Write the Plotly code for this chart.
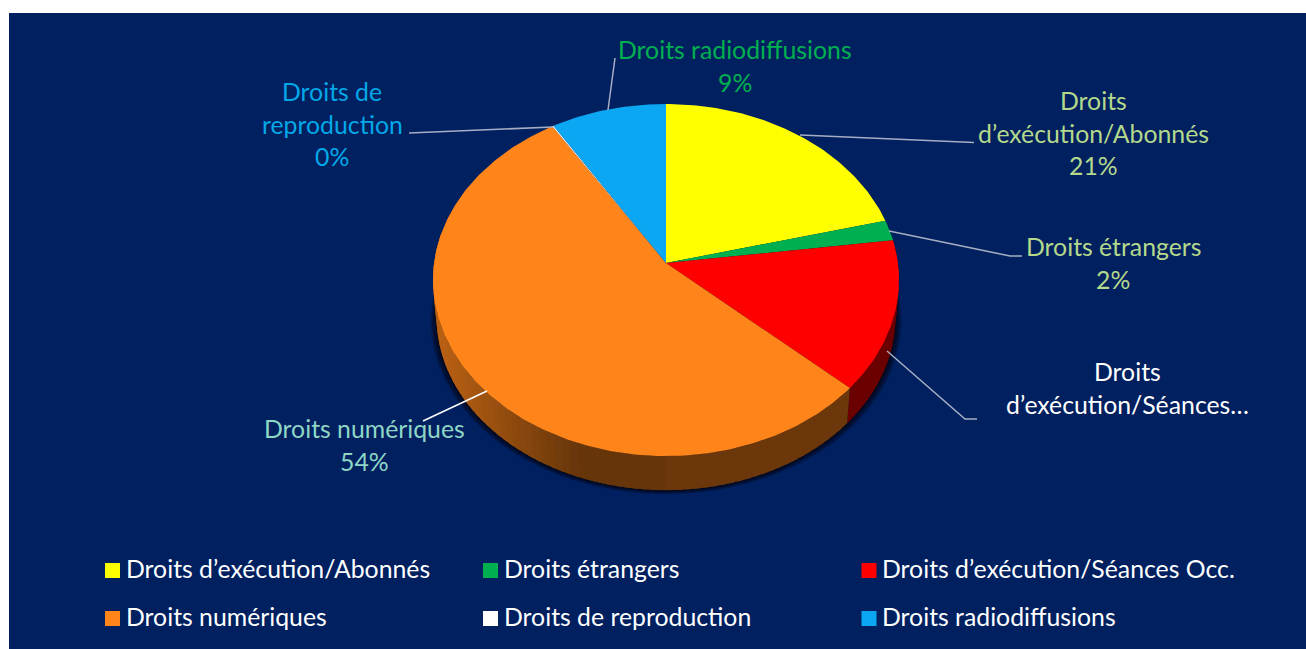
import numpy as np
import plotly.graph_objects as go

# data
categories = ["Droits d’exécution/Abonnés", "Droits étrangers", "Droits d’exécution/Séances Occ.",
              "Droits numériques", "Droits de reproduction", "Droits radiodiffusions"]
shares = [21.0, 1.9, 13.8, 54.4, 0.1, 8.8]
colors = ["#FFFF00", "#00B050", "#FF0000", "#FF851B", "#FFFFFF", "#0BA7F2"]

# outside labels: wrapped text, shown percent or not
label_lines = [["Droits", "d’exécution/Abonnés"], ["Droits étrangers"], ["Droits", "d’exécution/Séances…"],
               ["Droits numériques"], ["Droits de", "reproduction"], ["Droits radiodiffusions"]]
label_percent = [True, True, False, True, True, True]
label_colors = ["#B4D98C", "#B4D98C", "#FFFFFF", "#8FD6C6", "#00A8E8", "#00B050"]
label_pos = [(1093, 100.5), (1113, 246.5), (1127, 371.5), (364, 428.5), (332, 91.5), (735, 49.5)]
leaders = [[(800, 135), (960, 142.5), (974, 142.5)], [(889, 231), (1010, 256), (1022, 256)],
           [(887, 351), (965, 419), (977, 419)], [(487, 391), (423, 421)], [(553, 127), (409, 133)],
           [(608, 110), (615, 58)]]
leader_colors = ["#A6AEC4", "#A6AEC4", "#A6AEC4", "#FFFFFF", "#A6AEC4", "#A6AEC4"]

FONT = "Lato"
NAVY = "#002060"
CX, CY = 666, 263
KX, KY, P = 231.9, 174.4, 0.0966   # tilted circle -> screen
SIDE_SCALE, SIDE_DROP = 0.985, 37


def rim(theta, bottom=False):
    # theta in degrees clockwise from 12 o'clock
    t = np.radians(theta)
    u, v = np.sin(t), np.cos(t)
    x = KX * u / (1 + P * v)
    y = -KY * v / (1 + P * v)
    if bottom:
        return CX + x * SIDE_SCALE, CY + y * SIDE_SCALE + SIDE_DROP
    return CX + x, CY + y


def shade(col, k):
    r, g, b = [int(col[i:i + 2], 16) for i in (1, 3, 5)]
    return f"rgb({int(r * k)},{int(g * k)},{int(b * k)})"


fig = go.Figure()

# soft shadow under the disc
all_angles = np.linspace(0, 360, 181)
for grow in [6, 5, 4, 3, 2, 1]:
    bx, by = rim(all_angles, bottom=True)
    bx = CX + (bx - CX) * (1 + grow / 233)
    by = by + grow * 0.7
    fig.add_trace(go.Scatter(x=bx, y=by, mode="lines", fill="toself", fillcolor="rgba(0,0,0,0.16)",
                             line=dict(width=0), hoverinfo="skip", showlegend=False))

# start angle of every slice
edges = np.concatenate([[0], np.cumsum(shares)]) / sum(shares) * 360

# side wall, split in small steps for the shading; each step overlaps the next so no seams show
for i, col in enumerate(colors):
    a0, a1 = max(edges[i], 80), min(edges[i + 1], 280)
    if a1 <= a0:
        continue
    steps = np.arange(a0, a1, 2.0).tolist() + [a1]
    for s0, s1 in zip(steps[:-1], steps[1:]):
        sx0, _ = rim(s0)
        pos = (sx0 - CX) / 233
        k = 0.40 + 0.32 * max(0, min(1, (-pos - 0.35) / 0.6))
        if pos > 0:
            k = 0.42
        a = np.linspace(s0, min(s1 + 1.5, a1), 4)
        tx, ty = rim(a)
        bx, by = rim(a[::-1], bottom=True)
        fig.add_trace(go.Scatter(x=np.r_[tx, bx], y=np.r_[ty, by], mode="lines", fill="toself",
                                 fillcolor=shade(col, k), line=dict(width=0),
                                 hoverinfo="skip", showlegend=False))

# top face
for i, col in enumerate(colors):
    a = np.linspace(edges[i], edges[i + 1], max(3, int(shares[i] * 4)))
    tx, ty = rim(a)
    fig.add_trace(go.Scatter(x=np.r_[CX, tx, CX], y=np.r_[CY, ty, CY], mode="lines", fill="toself",
                             fillcolor=col, line=dict(width=0), name=categories[i],
                             hovertemplate=f"{categories[i]}: {shares[i]}%<extra></extra>", showlegend=False))

# leader lines
for pts, col in zip(leaders, leader_colors):
    fig.add_trace(go.Scatter(x=[p[0] for p in pts], y=[p[1] for p in pts], mode="lines",
                             line=dict(color=col, width=1.5), hoverinfo="skip", showlegend=False))

# labels, one annotation per line so the spacing stays tight
LABEL_SIZE = 24.8
LINE_GAP = 32.5
for i in range(len(categories)):
    lines = list(label_lines[i])
    if label_percent[i]:
        lines.append(f"{round(shares[i])}%")
    for n, txt in enumerate(lines):
        fig.add_annotation(x=label_pos[i][0], y=label_pos[i][1] + n * LINE_GAP,
                           text=txt, showarrow=False, xanchor="center", yanchor="middle",
                           font=dict(family=FONT, size=LABEL_SIZE, color=label_colors[i]))

# legend in 3 columns, 2 rows
LEG_X = [112.5, 490.5, 869]
LEG_Y = [570.5, 618.5]
for i, name in enumerate(categories):
    lx = LEG_X[i % 3]
    ly = LEG_Y[i // 3]
    fig.add_trace(go.Scatter(x=[lx], y=[ly], mode="markers", hoverinfo="skip", showlegend=False,
                             marker=dict(symbol="square", size=15, color=colors[i], line=dict(width=0))))
    fig.add_annotation(x=lx + 11, y=ly - 2, text=name, showarrow=False, xanchor="left", yanchor="middle",
                       font=dict(family=FONT, size=LABEL_SIZE, color="#FFFFFF"))

fig.update_xaxes(range=[0, 1306], visible=False, fixedrange=True)
fig.update_yaxes(range=[649, 0], visible=False, fixedrange=True)
fig.update_layout(width=1306, height=649, margin=dict(l=0, r=0, t=0, b=0), paper_bgcolor="white",
                  plot_bgcolor="white", showlegend=False,
                  shapes=[dict(type="rect", xref="x", yref="y", x0=9, x1=1306, y0=13, y1=649,
                               fillcolor=NAVY, line_width=0, layer="below")])

# the page's default body margin would push the chart off its place
fig.write_html("out.html", config={"displayModeBar": False},
               post_script="document.body.style.margin='0';document.body.style.overflow='hidden';")
